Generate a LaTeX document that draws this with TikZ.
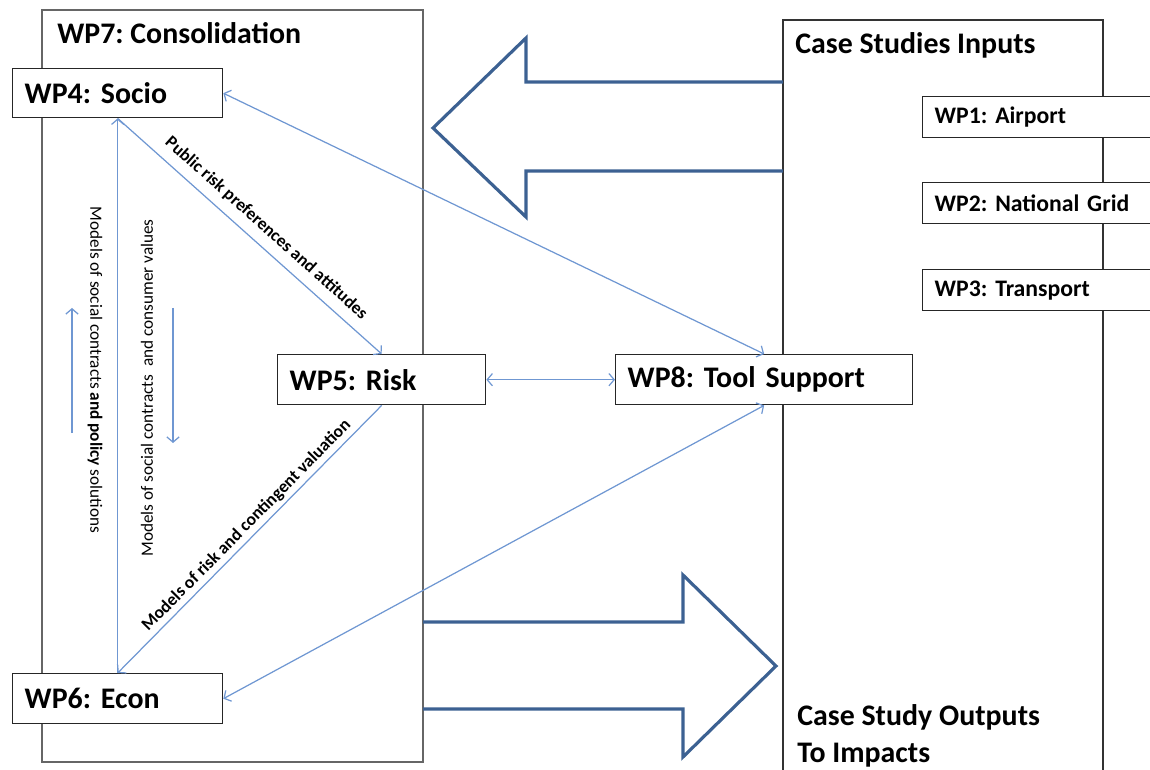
\documentclass[tikz,border=0pt]{standalone}
\usepackage{fontspec}
\setmainfont{Carlito}
\frenchspacing
\usetikzlibrary{arrows.meta}
\definecolor{linkblue}{HTML}{6F97D2}
\definecolor{arrowblue}{HTML}{3C6192}
\tikzset{
  wpbox/.style={draw=black!85, fill=white, line width=0.8pt, anchor=north west, align=left,
    inner xsep=0.24cm, inner ysep=1pt, font=\fontsize{17}{20}\selectfont\bfseries},
  casebox/.style={wpbox, minimum height=0.82cm, text width=4.7cm, font=\fontsize{13.5}{16}\selectfont\bfseries},
  title/.style={anchor=base west, inner sep=0pt, font=\fontsize{17}{20}\selectfont\bfseries},
  lbl/.style={text=black, font=\fontsize{10}{12}\selectfont\bfseries, sloped, inner sep=2pt},
  vlbl/.style={text=black, font=\fontsize{9.8}{12}\selectfont, inner sep=0pt},
  link/.style={linkblue, line width=0.7pt},
  fat/.style={arrowblue, line width=1.8pt, line join=miter},
  >={Straight Barb[length=3pt,width=7pt]}
}
\begin{document}
\begin{tikzpicture}[x=0.02cm, y=-0.02cm]
      \useasboundingbox (0,0) rectangle (1150,770);
      \clip (0,0) rectangle (1150,770);
      \draw[black!60, line width=1pt] (42,10) rectangle (423,762);
      \node[title] (wp7t) at (57,44) {WP7: Consolidation};
      \draw[black!80, line width=0.6pt] (783,20) rectangle (1103,800);
      \node[title] (caset) at (795,54) {Case Studies Inputs};
      \node[title] (outt) at (797,725) {Case Study Outputs};
      \node[title] (impt) at (797,762) {To Impacts};
      \draw[fat] (783,82) -- (526,82) -- (526,38) -- (433,128) -- (526,217) -- (526,171) -- (783,171);
      \draw[fat] (423,622) -- (683,622) -- (683,575) -- (776,666) -- (683,757) -- (683,709) -- (423,709);
      \node[wpbox, text width=3.72cm, minimum height=0.98cm] (wp4) at (12,68) {WP4: Socio};
      \node[wpbox, text width=3.68cm, minimum height=1cm] (wp5) at (277,354) {WP5: Risk};
      \node[wpbox, text width=5.46cm, minimum height=1cm] (wp8) at (615,354) {WP8: Tool Support};
      \node[wpbox, text width=3.72cm, minimum height=1cm] (wp6) at (12,673) {WP6: Econ};
      \node[casebox] (wp1) at (922,96) {WP1: Airport};
      \node[casebox] (wp2) at (922,182) {WP2: National Grid};
      \node[casebox] (wp3) at (922,269) {WP3: Transport};
      \node[vlbl, rotate=-90] (polyl) at (95,370) {Models of social contracts {\bfseries and policy} solutions};
      \node[vlbl, rotate=90] (consl) at (147,388) {Models of social contracts\ \ and consumer values};
      \coordinate (upa) at (72,433);
      \coordinate (upb) at (72,308);
      \coordinate (dna) at (173,308);
      \coordinate (dnb) at (173,443);
      \begin{scope}[link]
        \draw[<->] (wp4.east) -- (wp8.north);
        \draw[->] (wp4.south) -- node[lbl, above=3pt, pos=0.52] (publ) {Public risk preferences and attitudes} (wp5.north);
        \draw[->] (wp6.north) -- (wp4.south);
        \draw[->] (wp5.south) -- node[lbl, above, pos=0.48] (riskl) {Models of risk and contingent valuation} (wp6.north);
        \draw[<->] (wp8.south) -- (wp6.east);
        \draw[<->] (wp5.east) -- (wp8.west);
        \draw[->] (upa) -- (upb);
        \draw[->] (dna) -- (dnb);
      \end{scope}
    \end{tikzpicture}
\end{document}
